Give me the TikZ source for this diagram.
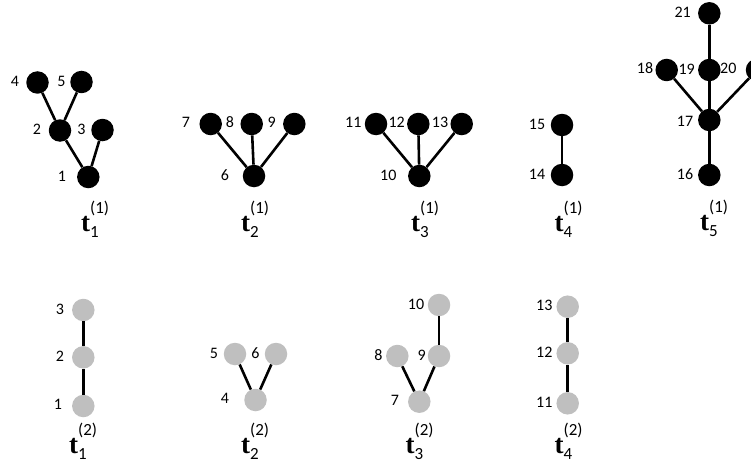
\documentclass[tikz,border=0pt]{standalone}
\usepackage{fontspec}
\newfontfamily\carlito{Carlito}
\newfontfamily\tserif{Liberation Serif}
\newcommand\carl{\fontsize{17}{17}\selectfont\carlito}
\newcommand\tlab[2]{{\fontsize{27}{27}\selectfont\tserif\bfseries t}\rlap{\raisebox{18pt}{\carl(#2)}}\raisebox{-6pt}{\carl #1}}
\begin{document}
\begin{tikzpicture}[x=1pt,y=-1pt,
  bn/.style={circle,fill=black,minimum size=22.5pt,inner sep=0pt},
  gn/.style={circle,fill=black!25,minimum size=22.5pt,inner sep=0pt},
  lab/.style={font=\fontsize{16}{16}\selectfont\carlito,inner sep=0pt},
  edge/.style={line width=2.6pt,black},
  tl/.style={anchor=base west,inner sep=0pt}]
\useasboundingbox (0,0) rectangle (751,468);
% t1(1)
\node[bn] (a4) at (37.5,82.5) {};
\node[bn] (a5) at (81.5,82) {};
\node[bn] (a2) at (60,130.5) {};
\node[bn] (a3) at (102.5,130) {};
\node[bn] (a1) at (88.3,177) {};
\node[lab] (la4) at (15,81) {4};
\node[lab] (la5) at (61.5,81) {5};
\node[lab] (la2) at (37,129) {2};
\node[lab] (la3) at (81.5,129) {3};
\node[lab] (la1) at (62,176) {1};
\draw[edge] (a4) -- (a2); \draw[edge] (a5) -- (a2);
\draw[edge] (a2) -- (a1); \draw[edge] (a3) -- (a1);
\node[tl] (T11) at (81,231.5) {\tlab{1}{1}};
% t2(1)
\node[bn] (b7) at (210.7,124) {};
\node[bn] (b8) at (251.7,124) {};
\node[bn] (b9) at (294.3,124) {};
\node[bn] (b6) at (254,176) {};
\node[lab] (lb7) at (186,122) {7};
\node[lab] (lb8) at (230,122) {8};
\node[lab] (lb9) at (271.7,122) {9};
\node[lab] (lb6) at (225,175) {6};
\draw[edge] (b7) -- (b6); \draw[edge] (b8) -- (b6); \draw[edge] (b9) -- (b6);
\node[tl] (T21) at (241,231.5) {\tlab{2}{1}};
% t3(1)
\node[bn] (c11) at (376,124) {};
\node[bn] (c12) at (418.3,124) {};
\node[bn] (c13) at (461.7,124) {};
\node[bn] (c10) at (419.3,176) {};
\node[lab] (lc11) at (353.3,122) {11};
\node[lab] (lc12) at (396.7,122) {12};
\node[lab] (lc13) at (440,122) {13};
\node[lab] (lc10) at (388.3,175) {10};
\draw[edge] (c11) -- (c10); \draw[edge] (c12) -- (c10); \draw[edge] (c13) -- (c10);
\node[tl] (T31) at (411,231.5) {\tlab{3}{1}};
% t4(1)
\node[bn] (d15) at (562,125) {};
\node[bn] (d14) at (562,175) {};
\node[lab] (ld15) at (537,124) {15};
\node[lab] (ld14) at (537,174) {14};
\draw[edge] (d15) -- (d14);
\node[tl] (T41) at (554.5,231.5) {\tlab{4}{1}};
% t5(1)
\node[bn] (e21) at (709.3,13.3) {};
\node[bn] (e19) at (709.3,70) {};
\node[bn] (e18) at (666.7,70) {};
\node[bn] (e20) at (757,70) {};
\node[bn] (e17) at (709.3,120) {};
\node[bn] (e16) at (709.3,175) {};
\node[lab] (le21) at (682.7,12) {21};
\node[lab] (le18) at (645,68) {18};
\node[lab] (le19) at (686.7,69) {19};
\node[lab] (le20) at (728.3,68) {20};
\node[lab] (le17) at (685,121) {17};
\node[lab] (le16) at (685,174) {16};
\draw[edge] (e21) -- (e19); \draw[edge] (e19) -- (e17);
\draw[edge] (e18) -- (e17); \draw[edge] (e20) -- (e17);
\draw[edge] (e17) -- (e16);
\node[tl] (T51) at (700,230.5) {\tlab{5}{1}};
% t1(2)
\node[gn] (f3) at (83.3,310) {};
\node[gn] (f2) at (83.3,357.3) {};
\node[gn] (f1) at (83.3,406) {};
\node[lab] (lf3) at (60,309) {3};
\node[lab] (lf2) at (60,356) {2};
\node[lab] (lf1) at (58,404) {1};
\draw[edge] (f3) -- (f2); \draw[edge] (f2) -- (f1);
\node[tl] (T12) at (69,453) {\tlab{1}{2}};
% t2(2)
\node[gn] (g5) at (235,354) {};
\node[gn] (g6) at (276,354) {};
\node[gn] (g4) at (255.5,400) {};
\node[lab] (lg5) at (214,353) {5};
\node[lab] (lg6) at (255.5,353) {6};
\node[lab] (lg4) at (225,398) {4};
\draw[edge] (g5) -- (g4); \draw[edge] (g6) -- (g4);
\node[tl] (T22) at (241,453) {\tlab{2}{2}};
% t3(2)
\node[gn] (h10) at (439,305) {};
\node[gn] (h9) at (439,356) {};
\node[gn] (h8) at (397.3,356) {};
\node[gn] (h7) at (419.3,401.7) {};
\node[lab] (lh10) at (416,304) {10};
\node[lab] (lh9) at (421.7,355) {9};
\node[lab] (lh8) at (378.3,355) {8};
\node[lab] (lh7) at (395,400) {7};
\draw[edge] (h10) -- (h9); \draw[edge] (h9) -- (h7); \draw[edge] (h8) -- (h7);
\node[tl] (T32) at (405.5,453) {\tlab{3}{2}};
% t4(2)
\node[gn] (k13) at (567.7,306.7) {};
\node[gn] (k12) at (567.7,353.3) {};
\node[gn] (k11) at (567.7,403.3) {};
\node[lab] (lk13) at (544.3,305) {13};
\node[lab] (lk12) at (544.3,352) {12};
\node[lab] (lk11) at (544.3,402) {11};
\draw[edge] (k13) -- (k12); \draw[edge] (k12) -- (k11);
\node[tl] (T42) at (554.5,453) {\tlab{4}{2}};
\end{tikzpicture}
\end{document}
